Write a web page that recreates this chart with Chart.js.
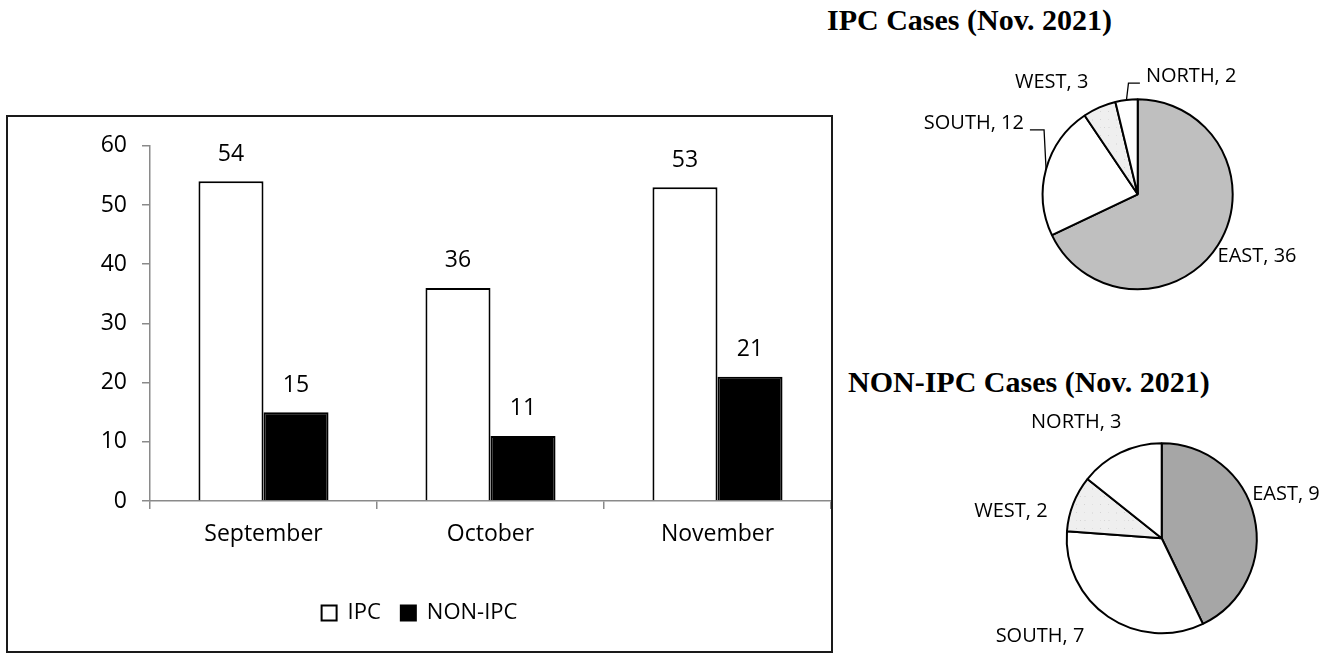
<!DOCTYPE html>
<html>
<head>
<meta charset="utf-8">
<script src="https://cdn.jsdelivr.net/npm/chart.js@4.4.1/dist/chart.umd.min.js"></script>
<style>
  html, body { margin:0; padding:0; background:#fff; }
  body { width:1339px; height:653px; position:relative; overflow:hidden; }
  #barBox { position:absolute; left:6px; top:115px; width:827px; height:538px; box-sizing:border-box; border:2px solid #1a1a1a; }
  #barWrap { position:absolute; left:8px; top:117px; width:823px; height:534px; }
  #pie1Wrap { position:absolute; left:900px; top:55px; width:439px; height:265px; }
  #pie2Wrap { position:absolute; left:900px; top:400px; width:439px; height:253px; }
  .ttl { position:absolute; font-family:"Liberation Serif","Times New Roman",serif; font-weight:bold; font-size:30px; line-height:30px; color:#000; white-space:nowrap; }
</style>
</head>
<body>
<div id="barBox"></div>
<div id="barWrap"><canvas id="bar"></canvas></div>
<div class="ttl" id="t1" style="left:827px; top:5px;">IPC Cases (Nov. 2021)</div>
<div class="ttl" id="t2" style="left:848px; top:367px;">NON-IPC Cases (Nov. 2021)</div>
<div id="pie1Wrap"><canvas id="pie1"></canvas></div>
<div id="pie2Wrap"><canvas id="pie2"></canvas></div>
<script>
// ---------- data ----------
const categories = ['September', 'October', 'November'];
const ipcValues = [54, 36, 53];
const nonIpcValues = [15, 11, 21];
const seriesNames = ['IPC', 'NON-IPC'];
const yMin = 0, yMax = 60, yStep = 10;

const regions = ['EAST', 'SOUTH', 'WEST', 'NORTH'];
const ipcRegionValues = [36, 12, 3, 2];
const nonIpcRegionValues = [9, 7, 2, 3];

// ---------- styling helpers ----------
Chart.defaults.font.family = "'Open Sans', sans-serif";
Chart.defaults.color = '#000';
Chart.defaults.animation = false;

function speckle(base) {
  const c = document.createElement('canvas');
  c.width = 24; c.height = 24;
  const g = c.getContext('2d');
  g.fillStyle = base; g.fillRect(0, 0, 24, 24);
  let s = 7;
  for (let i = 0; i < 90; i++) {
    s = (s * 1103515245 + 12345) % 2147483648;
    const x = s % 24;
    s = (s * 1103515245 + 12345) % 2147483648;
    const y = s % 24;
    g.fillStyle = (i % 3 === 0) ? '#d4d4d4' : '#e0e0e0';
    g.fillRect(x, y, 1, 1);
  }
  return g.createPattern(c, 'repeat');
}
const patternCtx = document.createElement('canvas').getContext('2d');
const westFill = speckle('#efefef');

// ---------- bar chart ----------
const barValueLabels = {
  id: 'barValueLabels',
  afterDatasetsDraw(chart) {
    const ctx = chart.ctx;
    ctx.save();
    ctx.font = "23px 'Open Sans', sans-serif";
    ctx.fillStyle = '#000';
    ctx.textAlign = 'center';
    ctx.textBaseline = 'middle';
    chart.data.datasets.forEach((ds, di) => {
      const meta = chart.getDatasetMeta(di);
      meta.data.forEach((bar, i) => {
        ctx.fillText(String(ds.data[i]), bar.x, bar.y - 27);
      });
    });
    ctx.restore();
  }
};

new Chart(document.getElementById('bar'), {
  type: 'bar',
  data: {
    labels: categories,
    datasets: [
      { label: seriesNames[0], data: ipcValues, backgroundColor: '#ffffff', borderColor: '#000', borderWidth: 2,
        categoryPercentage: 0.573, barPercentage: 1.0 },
      { label: seriesNames[1], data: nonIpcValues, backgroundColor: '#000000', borderColor: '#000', borderWidth: 2,
        categoryPercentage: 0.573, barPercentage: 1.0 }
    ]
  },
  options: {
    responsive: true,
    maintainAspectRatio: false,
    layout: { padding: { top: 22, left: 0, right: 0, bottom: 17 } },
    plugins: {
      legend: {
        position: 'bottom',
        labels: { font: { size: 22 }, boxWidth: 15, boxHeight: 15, padding: 20, color: '#000' }
      },
      tooltip: { enabled: false }
    },
    scales: {
      x: {
        grid: { display: true, drawOnChartArea: false, drawTicks: true, tickLength: 8, color: '#8a8a8a', lineWidth: 1.5, offset: true },
        border: { display: true, color: '#8a8a8a', width: 1.5 },
        ticks: { font: { size: 23 }, color: '#000', padding: 12, maxRotation: 0 },
        afterFit(scale) { scale.height = 81; }
      },
      y: {
        min: yMin, max: yMax,
        grid: { display: true, drawOnChartArea: false, drawTicks: true, tickLength: 8, color: '#8a8a8a', lineWidth: 1.5 },
        border: { display: true, color: '#8a8a8a', width: 1.5 },
        ticks: { stepSize: yStep, font: { size: 23 }, color: '#000', padding: 15 },
        afterFit(scale) { scale.width = 142; }
      }
    }
  },
  plugins: [barValueLabels]
});

// ---------- pie charts ----------
const pieLabels = {
  id: 'pieLabels',
  afterDraw(chart, args, opts) {
    const ctx = chart.ctx;
    const meta = chart.getDatasetMeta(0);
    const ds = chart.data.datasets[0];
    ctx.save();
    ctx.font = "20px 'Open Sans', sans-serif";
    ctx.fillStyle = '#000';
    ctx.textBaseline = 'middle';
    ctx.textAlign = 'center';
    meta.data.forEach((arc, i) => {
      const p = arc.getProps(['x', 'y', 'startAngle', 'endAngle', 'outerRadius'], true);
      const mid = (p.startAngle + p.endAngle) / 2;
      const ax = p.x + Math.cos(mid) * p.outerRadius;
      const ay = p.y + Math.sin(mid) * p.outerRadius;
      const off = opts.offsets[i];
      const lx = ax + off[0], ly = ay + off[1];
      const text = chart.data.labels[i] + ', ' + ds.data[i];
      const w = ctx.measureText(text).width;
      ctx.fillText(text, lx, ly);
      if (opts.leaders[i]) {
        const left = lx < ax;
        const ey = ly + 6.5;
        const ex = left ? lx + w / 2 + 6 : lx - w / 2 - 6;
        const kx = left ? ax - 2 : ax + 2;
        ctx.beginPath();
        ctx.strokeStyle = '#000';
        ctx.lineWidth = 1.3;
        ctx.moveTo(ax, ay);
        ctx.lineTo(kx, ey);
        ctx.lineTo(ex, ey);
        ctx.stroke();
      }
    });
    ctx.restore();
  }
};

function makePie(id, values, eastColor, padding, offsets, leaders) {
  return new Chart(document.getElementById(id), {
    type: 'pie',
    data: {
      labels: regions,
      datasets: [{
        data: values,
        backgroundColor: [eastColor, '#ffffff', westFill, '#ffffff'],
        borderColor: '#000',
        borderWidth: 2
      }]
    },
    options: {
      responsive: true,
      maintainAspectRatio: false,
      layout: { padding: padding },
      plugins: {
        legend: { display: false },
        tooltip: { enabled: false },
        pieLabels: { offsets: offsets, leaders: leaders }
      }
    },
    plugins: [pieLabels]
  });
}

makePie('pie1', ipcRegionValues, '#bfbfbf',
  { left: 141.7, top: 43.3, right: 105.3, bottom: 29.7 },
  [[39, 11.6], [-72.2, -45.9], [-47.7, -24.7], [64.7, -23.3]],
  [false, true, false, true]);

makePie('pie2', nonIpcRegionValues, '#a6a6a6',
  { left: 165.7, top: 42.3, right: 81.3, bottom: 18.7 },
  [[31.7, -23], [-68.2, 19.9], [-62.3, 8.1], [-44.2, -30.4]],
  [false, false, false, false]);
</script>
</body>
</html>
